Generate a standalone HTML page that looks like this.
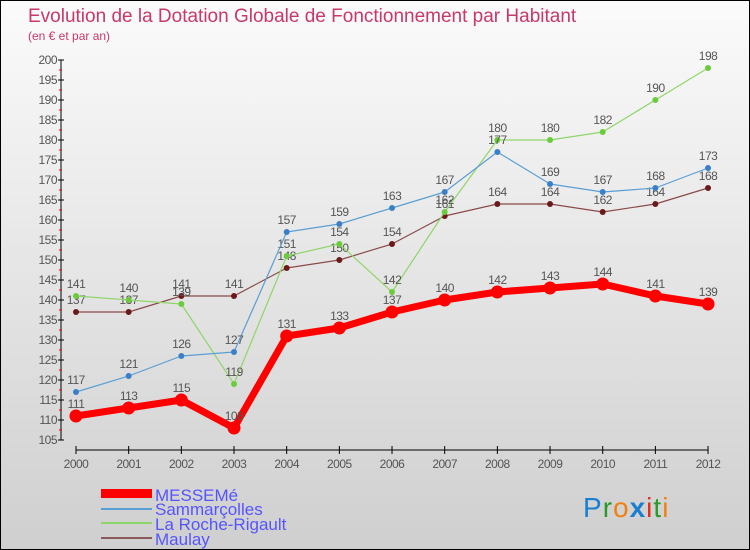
<!DOCTYPE html>
<html><head><meta charset="utf-8"><style>
body{margin:0}
#c{width:748px;height:548px;border:1px solid #000;background:linear-gradient(#fbfbfb,#cfcfcf);position:relative;font-family:"Liberation Sans",sans-serif;overflow:hidden}
</style></head><body>
<div id="c">
<svg id="s" width="748" height="548">
<text x="27" y="21" font-size="19" fill="#c8386a">Evolution de la Dotation Globale de Fonctionnement par Habitant</text>
<text x="27" y="39" font-size="12" fill="#c8386a">(en € et par an)</text>
<g id="axes"></g><g id="series"></g>
<g>
<rect x="100" y="488" width="51" height="9" fill="#f00"/>
<text x="154" y="500" font-size="17" fill="#55f">MESSEMé</text>
<rect x="100" y="507" width="51" height="2" fill="#5a9fd4"/>
<text x="154" y="514" font-size="17" fill="#55f">Sammarçolles</text>
<rect x="100" y="521" width="51" height="2" fill="#8fd66a"/>
<text x="154" y="529" font-size="17" fill="#55f">La Roche-Rigault</text>
<rect x="100" y="536" width="51" height="2" fill="#8b5a5a"/>
<text x="154" y="544" font-size="17" fill="#55f">Maulay</text>
</g>
<g font-size="28" font-family="Liberation Sans, sans-serif">
<text x="582" y="516" letter-spacing="1"><tspan fill="#1a7fd0">P</tspan><tspan fill="#2a9a2a">r</tspan><tspan fill="#f08010">o</tspan><tspan fill="#1a7fd0" font-weight="bold">x</tspan><tspan fill="#e03020">i</tspan><tspan fill="#2a9a2a">t</tspan><tspan fill="#f08010">i</tspan></text>
</g>
</svg>
</div>
<script>
const years=["2000","2001","2002","2003","2004","2005","2006","2007","2008","2009","2010","2011","2012"];
const messeme=[111,113,115,108,131,133,137,140,142,143,144,141,139];
const sammarcolles=[117,121,126,127,157,159,163,167,177,169,167,168,173];
const laroche=[141,140,139,119,151,154,142,162,180,180,182,190,198];
const maulay=[137,137,141,141,148,150,154,161,164,164,162,164,168];
const yTicks=[105,110,115,120,125,130,135,140,145,150,155,160,165,170,175,180,185,190,195,200];
const NS="http://www.w3.org/2000/svg";
const X=i=>75+i*52.67, Y=v=>59+(200-v)*4;
function mk(t,a,p){const e=document.createElementNS(NS,t);for(const k in a)e.setAttribute(k,a[k]);p.appendChild(e);return e;}
const ax=document.getElementById('axes'),sg=document.getElementById('series');
const ya=mk('line',{x1:60,y1:59,x2:60,y2:439,stroke:'#000'},ax);

yTicks.forEach(v=>{
 mk('line',{x1:57,x2:63,y1:Y(v),y2:Y(v),stroke:'#000'},ax);
 if(v<200)mk('line',{x1:58,x2:61,y1:Y(v+2.5),y2:Y(v+2.5),stroke:'#f00'},ax);
 const t=mk('text',{x:56,y:Y(v)+4,'font-size':12,fill:'#555','text-anchor':'end','letter-spacing':'-0.5'},ax);t.textContent=v;
 
});
const xa=mk('line',{x1:X(0),y1:449,x2:X(12),y2:449,stroke:'#000'},ax);

years.forEach((y,i)=>{
 mk('line',{x1:X(i),x2:X(i),y1:445,y2:453,stroke:'#000'},ax);
 const t=mk('text',{x:X(i),y:467,'font-size':12,fill:'#555','text-anchor':'middle','letter-spacing':'-0.5'},ax);t.textContent=y;
 
});
function series(vals,col,w,r,name,dot){
 const g=mk('g',{},sg);
 mk('polyline',{points:vals.map((v,i)=>X(i)+','+Y(v)).join(' '),fill:'none',stroke:col,'stroke-width':w,'stroke-linejoin':'round'},g);
 vals.forEach((v,i)=>{
  const c=mk('circle',{cx:X(i),cy:Y(v),r:r,fill:dot},g);
  
  const t=mk('text',{x:X(i),y:Y(v)-8,'font-size':12,fill:'#555','text-anchor':'middle','letter-spacing':'-0.5'},g);t.textContent=v;
  
 });
}
series(maulay,'#8b4a4a',1.2,3,'maulay','#6b1a1a');
series(laroche,'#8fd66a',1.2,3,'la-roche-rigault','#6acc3a');
series(sammarcolles,'#5a9fd4',1.2,3,'sammarcolles','#3a80c8');
series(messeme,'#f00',7,6.5,'messeme','#f00');
</script>
</body></html>
